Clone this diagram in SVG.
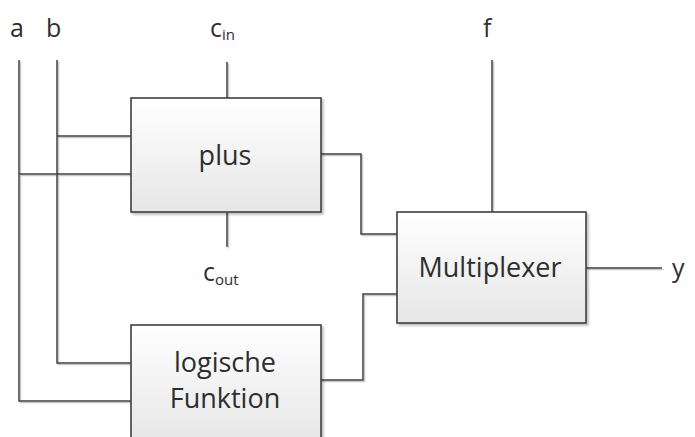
<svg xmlns="http://www.w3.org/2000/svg" width="695" height="437" viewBox="0 0 695 437">
<defs>
<linearGradient id="g" x1="0" y1="0" x2="0" y2="1">
<stop offset="0" stop-color="#ffffff"/>
<stop offset="1" stop-color="#e6e6e6"/>
</linearGradient>
<filter id="sh" x="-5%" y="-5%" width="115%" height="115%">
<feDropShadow dx="2" dy="2" stdDeviation="1.2" flood-color="#000" flood-opacity="0.25"/>
</filter>
</defs>
<style>
.box{fill:url(#g);stroke:#404040;stroke-width:1.6;filter:url(#sh)}
.w{fill:none;stroke:#404040;stroke-width:1.5}
.ws{fill:none;stroke:#c8c8c8;stroke-width:1.5}
text{font-family:"Open Sans","Liberation Sans",sans-serif;fill:#2e2e2e}
.l{font-size:25px}
.s{font-size:15px}
.t{font-size:27px;text-anchor:middle}
</style>
<rect width="695" height="437" fill="#ffffff"/>
<g id="connectors">
<g transform="translate(1.5,1.5)">
<polyline class="ws" points="19,60 19,401 131,401"/>
<polyline class="ws" points="57,60 57,363 131,363"/>
<line class="ws" x1="57" y1="136" x2="131" y2="136"/>
<line class="ws" x1="19" y1="174" x2="131" y2="174"/>
<line class="ws" x1="227" y1="62" x2="227" y2="98"/>
<line class="ws" x1="227" y1="212" x2="227" y2="247"/>
<polyline class="ws" points="321,154 361,154 361,234 397,234"/>
<polyline class="ws" points="321,380 363,380 363,294 397,294"/>
<line class="ws" x1="492" y1="60" x2="492" y2="212"/>
<line class="ws" x1="586" y1="268" x2="662" y2="268"/>
</g>
<polyline class="w" points="19,60 19,401 131,401"/>
<polyline class="w" points="57,60 57,363 131,363"/>
<line class="w" x1="57" y1="136" x2="131" y2="136"/>
<line class="w" x1="19" y1="174" x2="131" y2="174"/>
<line class="w" x1="227" y1="62" x2="227" y2="98"/>
<line class="w" x1="227" y1="212" x2="227" y2="247"/>
<polyline class="w" points="321,154 361,154 361,234 397,234"/>
<polyline class="w" points="321,380 363,380 363,294 397,294"/>
<line class="w" x1="492" y1="60" x2="492" y2="212"/>
<line class="w" x1="586" y1="268" x2="662" y2="268"/>
</g>
<g id="plus">
<rect class="box" x="131" y="98" width="190" height="114"/>
<text class="t" x="225" y="165">plus</text>
</g>
<g id="logic">
<rect class="box" x="131" y="325" width="190" height="120"/>
<text class="t" x="225" y="372">logische</text>
<text class="t" x="225" y="408">Funktion</text>
</g>
<g id="mux">
<rect class="box" x="397" y="212" width="189" height="111"/>
<text class="t" x="490" y="277">Multiplexer</text>
</g>
<g id="labels">
<text class="l" x="10" y="37">a</text>
<text class="l" x="46" y="37">b</text>
<text class="l" x="210" y="37">c<tspan class="s" dy="3">in</tspan></text>
<text class="l" x="203" y="281">c<tspan class="s" dy="4">out</tspan></text>
<text class="l" x="483" y="37">f</text>
<text class="l" x="672" y="277">y</text>
</g>
</svg>
